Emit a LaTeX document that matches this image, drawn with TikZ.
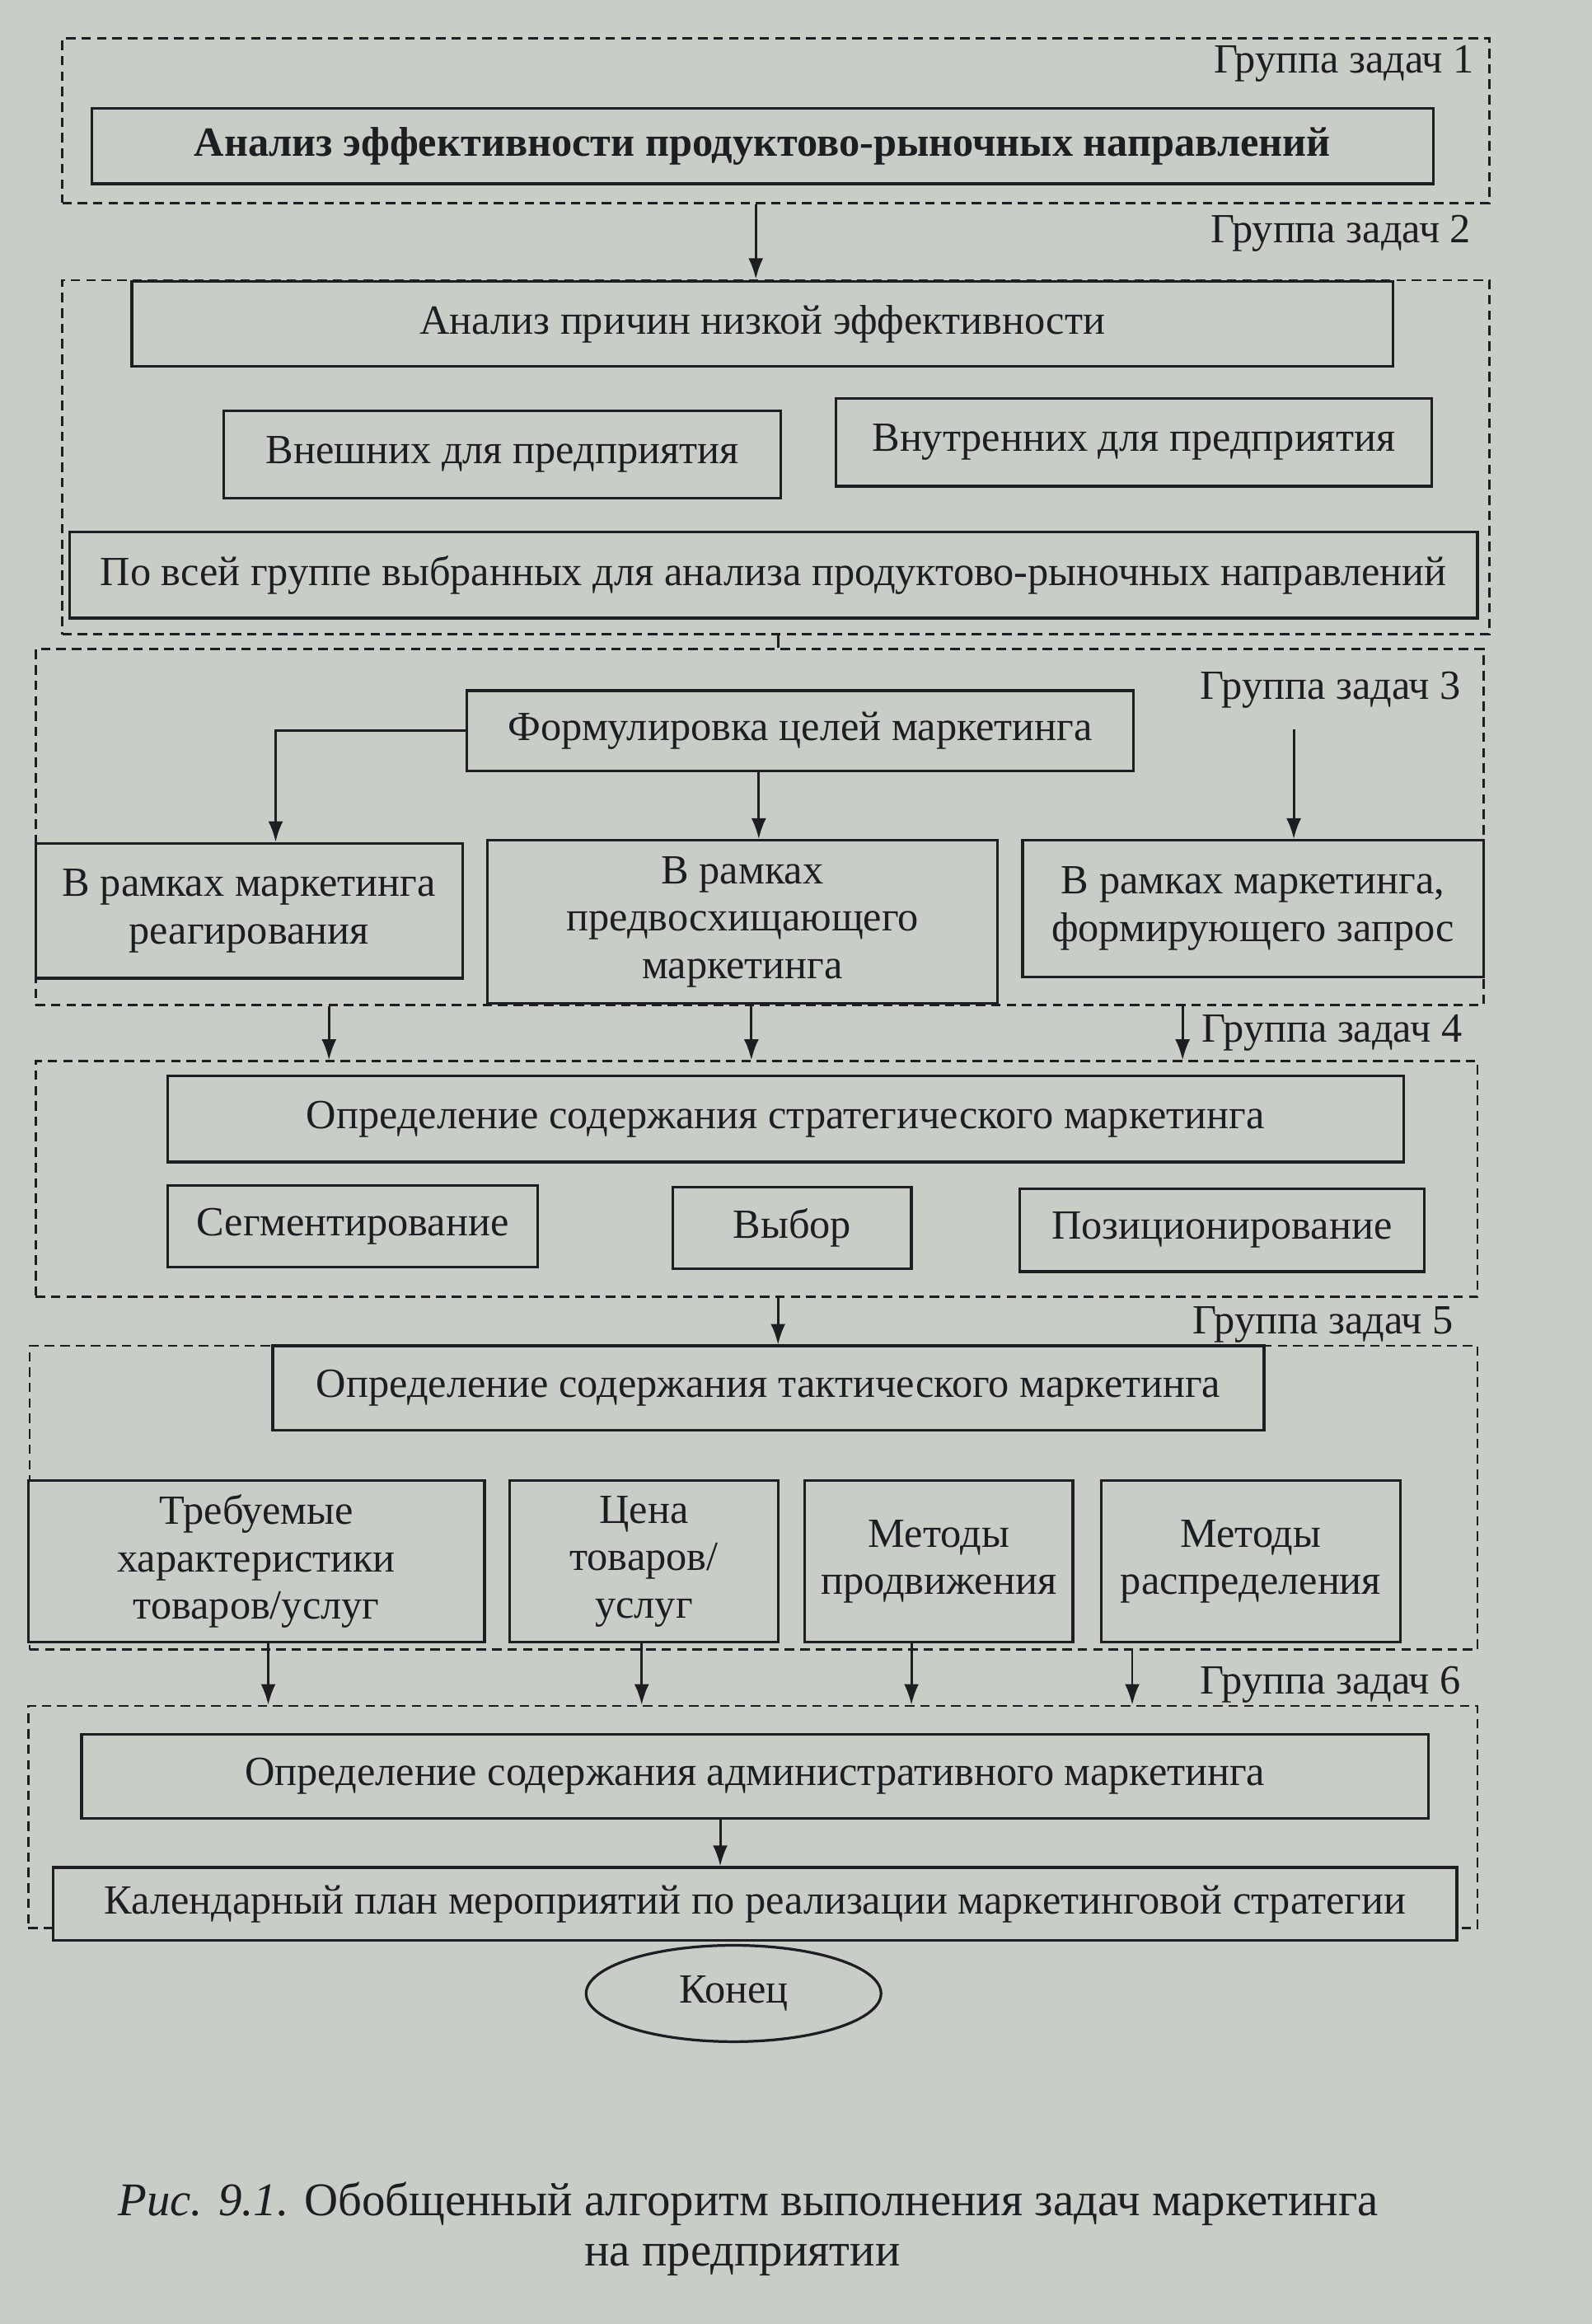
\documentclass[tikz,border=0pt]{standalone}
\usepackage{fontspec}
\setmainfont{Liberation Serif}
\usetikzlibrary{arrows.meta,fit,shapes.geometric}
\definecolor{paper}{RGB}{200,205,200}
\definecolor{ink}{RGB}{30,30,34}
\begin{document}
\begin{tikzpicture}[x=0.5pt,y=-0.5pt,
  every node/.style={font=\fontsize{14}{16}\selectfont, text=ink},
  box/.style={draw=ink, line width=0.9pt, fill=paper, inner sep=0pt, align=center},
  grp/.style={draw=ink, line width=0.75pt, dash pattern=on 3.2pt off 2pt, inner sep=0pt},
  glabel/.style={anchor=base east, inner sep=0pt},
  arr/.style={draw=ink, line width=0.8pt, -{Latex[length=7pt,width=5pt]}},
  tick/.style={draw=ink, line width=0.9pt},
  endnode/.style={draw=ink, line width=0.9pt, ellipse, inner sep=0pt, minimum width=99.5pt, minimum height=32.5pt},
  capfont/.style={font=\fontsize{15.8}{18}\selectfont, anchor=base, inner sep=0pt}
]
\fill[paper] (0,0) rectangle (1074,1568);
\useasboundingbox (0,0) rectangle (1074,1568);

% group frames
\node[grp, fit={(42,26) (1005,137)}] (g1) {};
\node[grp, fit={(42,189) (1005,428)}] (g2) {};
\node[grp, fit={(24,438) (1001,678)}] (g3) {};
\node[grp, fit={(24,716) (997,875)}] (g4) {};
\node[grp, fit={(20,908) (997,1113)}] (g5) {};
\node[grp, fit={(19,1151) (997,1301)}] (g6) {};

% group labels
\node[glabel] (l1) at (995,49) {Группа задач 1};
\node[glabel] (l2) at (993,164) {Группа задач 2};
\node[glabel] (l3) at (986,472) {Группа задач 3};
\node[glabel] (l4) at (987,703) {Группа задач 4};
\node[glabel] (l5) at (981,900) {Группа задач 5};
\node[glabel] (l6) at (986,1143) {Группа задач 6};

% boxes
\node[box, minimum width=452.5pt, minimum height=25.5pt] (b1) at (514.5,98.5) {\bfseries Анализ эффективности продуктово-рыночных направлений};
\node[box, minimum width=425.5pt, minimum height=28.5pt] (b2) at (514.5,218.5) {Анализ причин низкой эффективности};
\node[box, minimum width=188pt, minimum height=29.5pt] (b3) at (339,306.5) {Внешних для предприятия};
\node[box, minimum width=201pt, minimum height=29.5pt] (b4) at (765,298.5) {Внутренних для предприятия};
\node[box, minimum width=475pt, minimum height=29pt] (b5) at (522,388) {По всей группе выбранных для анализа продуктово-рыночных направлений};
\node[box, minimum width=225pt, minimum height=27pt] (b6) at (540,493) {Формулировка целей маркетинга};
\node[box, minimum width=144pt, minimum height=45.5pt] (b7) at (168,614.5) {В рамках маркетинга\\реагирования};
\node[box, minimum width=172pt, minimum height=55pt] (b8) at (501,622) {В рамках\\предвосхищающего\\маркетинга};
\node[box, minimum width=155.5pt, minimum height=46pt] (b9) at (845.5,613) {В рамках маркетинга,\\формирующего запрос};
\node[box, minimum width=417pt, minimum height=29pt] (b10) at (530,755) {Определение содержания стратегического маркетинга};
\node[box, minimum width=125pt, minimum height=27.5pt] (b11) at (238,827.5) {Сегментирование};
\node[box, minimum width=80.5pt, minimum height=27.5pt] (b12) at (534.5,828.5) {Выбор};
\node[box, minimum width=136.5pt, minimum height=28pt] (b13) at (824.5,830) {Позиционирование};
\node[box, minimum width=334.5pt, minimum height=28.5pt] (b14) at (518.5,936.5) {Определение содержания тактического маркетинга};
\node[box, minimum width=154pt, minimum height=54.5pt] (b15) at (173,1053.5) {Требуемые\\характеристики\\товаров/услуг};
\node[box, minimum width=90.5pt, minimum height=54.5pt] (b16) at (434.5,1053.5) {Цена\\товаров/\\услуг};
\node[box, minimum width=90.5pt, minimum height=54.5pt] (b17) at (633.5,1053.5) {Методы\\продвижения};
\node[box, minimum width=101pt, minimum height=54.5pt] (b18) at (844,1053.5) {Методы\\распределения};
\node[box, minimum width=454.5pt, minimum height=28.5pt] (b19) at (509.5,1198.5) {Определение содержания административного маркетинга};
\node[box, minimum width=473.5pt, minimum height=24.5pt] (b20) at (509.5,1284.5) {Календарный план мероприятий по реализации маркетинговой стратегии};
\node[endnode] (e) at (495,1345) {Конец};

% caption
\node[capfont] (c1) at (505,1495) {\textit{Рис. 9.1.} Обобщенный алгоритм выполнения задач маркетинга};
\node[capfont] (c2) at (501,1529) {на предприятии};

% helper x positions
\coordinate (x510) at (510,0);
\coordinate (x525) at (525,0);
\coordinate (x186) at (186,0);
\coordinate (x512) at (512,0);
\coordinate (s9) at (873,492);
\coordinate (x222) at (222,0);
\coordinate (x507) at (507,0);
\coordinate (x798) at (798,0);
\coordinate (x181) at (181,0);
\coordinate (x433) at (433,0);
\coordinate (x615) at (615,0);
\coordinate (x764) at (764,0);
\coordinate (x486) at (486,0);

% connectors
\draw[arr] (g1.south -| x510) -- (g2.north -| x510);
\draw[tick] (g2.south -| x525) -- (g3.north -| x525);
\draw[arr] (b6.west) -| (x186 |- b7.north);
\draw[arr] (b6.south -| x512) -- (b8.north -| x512);
\draw[arr] (s9) -- (s9 |- b9.north);
\draw[arr] (g3.south -| x222) -- (g4.north -| x222);
\draw[arr] (b8.south -| x507) -- (g4.north -| x507);
\draw[arr] (g3.south -| x798) -- (g4.north -| x798);
\draw[arr] (g4.south -| x525) -- (g5.north -| x525);
\draw[arr] (b15.south -| x181) -- (g6.north -| x181);
\draw[arr] (b16.south -| x433) -- (g6.north -| x433);
\draw[arr] (b17.south -| x615) -- (g6.north -| x615);
\draw[arr] (g5.south -| x764) -- (g6.north -| x764);
\draw[arr] (b19.south -| x486) -- (b20.north -| x486);
\end{tikzpicture}
\end{document}
